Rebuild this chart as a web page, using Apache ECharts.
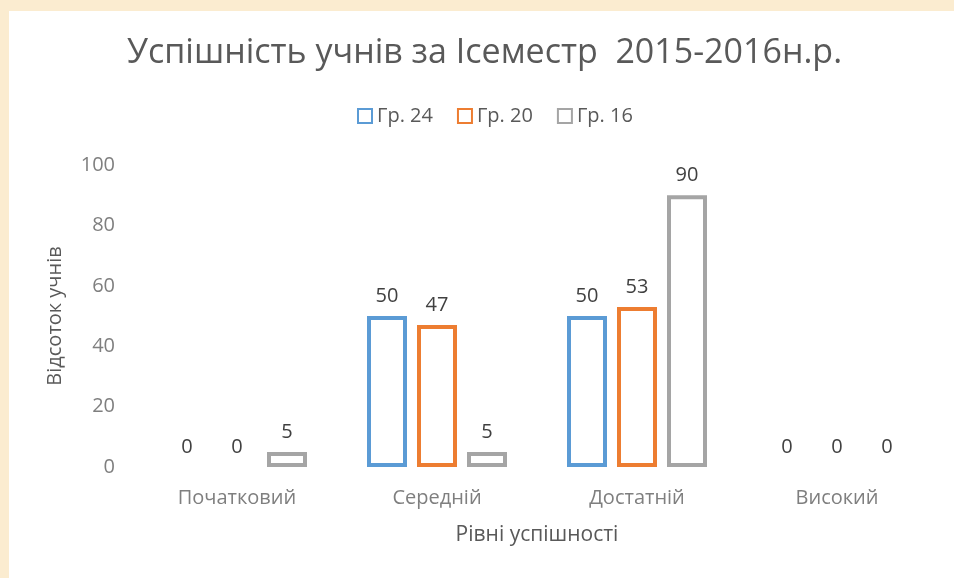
<!DOCTYPE html>
<html><head><meta charset="utf-8">
<script src="https://cdn.jsdelivr.net/npm/echarts@6/dist/echarts.min.js"></script>
<style>html,body{margin:0;padding:0;background:#fbecd0}#c{width:954px;height:578px}</style>
</head><body><div id="c"></div>
<script>
const categories = ['Початковий', 'Середній', 'Достатній', 'Високий'];
const seriesNames = ['Гр. 24', 'Гр. 20', 'Гр. 16'];
const gr24 = [0, 50, 50, 0];
const gr20 = [0, 47, 53, 0];
const gr16 = [5, 5, 90, 0];
const colors = ['#5b9bd5', '#ed7d31', '#a5a5a5'];
const yTicks = [0, 20, 40, 60, 80, 100];

const font = "'Open Sans', 'Noto Sans', sans-serif";
const chart = echarts.init(document.getElementById('c'));
const mk = (name, data, color) => ({
  name, type: 'bar',
  data: data.map(v => v === 0 ? { value: v, itemStyle: { borderWidth: 0, opacity: 0 } } : v),
  barWidth: 40,
  barGap: '25%',
  itemStyle: { color: '#ffffff', borderColor: color, borderWidth: 4 },
  label: { show: true, position: 'top', distance: 10, fontSize: 20, color: '#404040', fontFamily: font, opacity: 1 },
  emphasis: { disabled: true }
});
chart.setOption({
  animation: false,
  backgroundColor: '#fbecd0',
  graphic: [{ type: 'rect', left: 9, top: 11, shape: { width: 945, height: 567 }, style: { fill: '#ffffff' }, z: -10 }],
  color: colors,
  title: {
    text: 'Успішність учнів за Ісеместр  2015-2016н.р.',
    left: 122, top: 31,
    textStyle: { fontSize: 34, fontWeight: 'normal', color: '#595959', fontFamily: font }
  },
  legend: {
    data: seriesNames, top: 101, left: 352,
    itemWidth: 14, itemHeight: 14, itemGap: 24,
    icon: 'rect',
    textStyle: { fontSize: 20, color: '#595959', fontFamily: font }
  },
  grid: { left: 137, right: 17, top: 165, bottom: 111, containLabel: false },
  xAxis: {
    type: 'category', data: categories,
    name: 'Рівні успішності', nameLocation: 'middle', nameGap: 58,
    nameTextStyle: { fontSize: 21, color: '#595959', fontFamily: font },
    axisLine: { show: false }, axisTick: { show: false },
    axisLabel: { fontSize: 20, color: '#7f7f7f', margin: 21, fontFamily: font }
  },
  yAxis: {
    type: 'value', min: 0, max: 100, interval: 20,
    name: 'Відсоток учнів', nameLocation: 'middle', nameGap: 72,
    nameTextStyle: { fontSize: 20, color: '#595959', fontFamily: font },
    splitLine: { show: false }, axisLine: { show: false }, axisTick: { show: false },
    axisLabel: { fontSize: 20, color: '#7f7f7f', margin: 22, fontFamily: font }
  },
  series: [mk(seriesNames[0], gr24, colors[0]), mk(seriesNames[1], gr20, colors[1]), mk(seriesNames[2], gr16, colors[2])]
});
</script></body></html>
